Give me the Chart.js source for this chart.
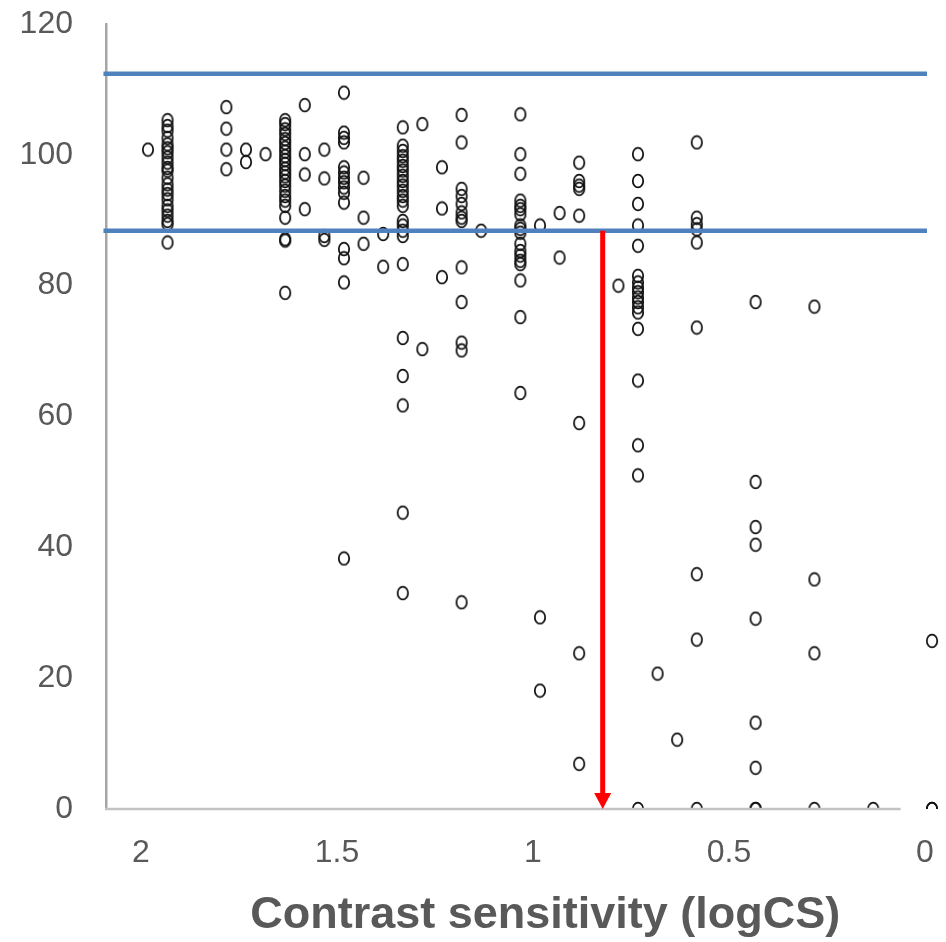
<!DOCTYPE html>
<html><head><meta charset="utf-8">
<script src="https://cdn.jsdelivr.net/npm/chart.js@4.4.1/dist/chart.umd.min.js"></script>
<style>html,body{margin:0;padding:0;background:#fff}canvas{display:block}</style>
</head><body>
<canvas id="c" width="946" height="942"></canvas>
<script>
// ---- data ----
const columnLogCS = [2.00, 1.95, 1.80, 1.75, 1.70, 1.65, 1.60, 1.55, 1.50, 1.45, 1.40, 1.35, 1.30, 1.25, 1.20, 1.15, 1.05, 1.00, 0.95, 0.90, 0.80, 0.75, 0.70, 0.65, 0.60, 0.45, 0.30, 0.15, 0.00];
const score200 = [100.8];
const score195 = [105.3, 104.4, 103.7, 102.6, 101.6, 101.0, 100.4, 99.6, 98.8, 98.0, 97.6, 96.5, 95.5, 94.7, 94.0, 93.2, 92.2, 91.5, 90.7, 89.9, 89.4, 86.6];
const score180 = [107.3, 104.0, 100.8, 97.8];
const score175 = [100.8, 98.9];
const score170 = [100.1];
const score165 = [105.3, 104.7, 103.9, 103.2, 102.4, 101.8, 101.1, 100.5, 99.8, 99.2, 98.6, 97.9, 97.3, 96.7, 96.0, 95.3, 94.5, 93.7, 93.0, 92.2, 90.4, 87.1, 86.9, 78.9];
const score160 = [107.6, 100.1, 97.0, 91.7];
const score155 = [100.8, 96.4, 87.6, 87.0];
const score150 = [109.5, 103.4, 102.6, 101.9, 98.1, 97.3, 96.5, 95.8, 95.0, 94.2, 92.7, 85.6, 84.2, 80.5, 38.3];
const score145 = [96.5, 90.4, 86.4];
const score140 = [87.9, 82.9];
const score135 = [104.2, 101.4, 100.6, 99.8, 99.1, 98.3, 97.6, 96.8, 96.0, 95.3, 94.5, 93.7, 93.0, 92.2, 89.9, 89.2, 88.4, 87.6, 83.3, 72.0, 66.2, 61.7, 45.3, 33.0];
const score130 = [104.7, 70.3];
const score125 = [98.1, 91.8, 81.3];
const score120 = [106.1, 101.9, 94.8, 93.7, 92.5, 91.2, 90.4, 89.9, 82.8, 77.5, 71.3, 70.1, 31.6];
const score115 = [88.4];
const score105 = [106.2, 100.1, 97.1, 93.0, 92.2, 91.7, 90.9, 89.2, 88.7, 88.1, 86.4, 85.3, 84.6, 83.8, 83.3, 80.8, 75.2, 63.6];
const score100 = [89.2, 29.3, 18.1];
const score095 = [91.1, 84.3];
const score090 = [98.8, 96.0, 95.3, 94.8, 90.7, 59.0, 23.8, 6.9];
const score080 = [80.0];
const score075 = [100.1, 96.0, 92.5, 89.2, 86.1, 81.5, 80.5, 79.7, 79.0, 78.2, 77.5, 76.7, 75.9, 73.4, 65.5, 55.6, 51.0, 0];
const score070 = [20.7];
const score065 = [10.6];
const score060 = [101.9, 90.4, 89.4, 88.6, 86.6, 73.6, 35.9, 25.9, 0];
const score045 = [77.5, 50.0, 43.1, 40.4, 29.1, 13.2, 6.3, 0, 0];
const score030 = [76.8, 35.1, 23.8, 0];
const score015 = [0];
const score000 = [25.7, 0, 0];
const columnScores = [score200, score195, score180, score175, score170, score165, score160, score155, score150, score145, score140, score135, score130, score125, score120, score115, score105, score100, score095, score090, score080, score075, score070, score065, score060, score045, score030, score015, score000];

const xTickValues = [2, 1.5, 1, 0.5, 0];
const yTickValues = [0, 20, 40, 60, 80, 100, 120];
const referenceLevels = [112.4, 88.4];
const referenceSpan = [2.1135, 0.0128];
const arrowLogCS = 0.84;
const arrowScores = [88.4, 0];
const xAxisTitle = 'Contrast sensitivity (logCS)';

// ---- styling ----
const FONT = '"Liberation Sans", Arial, sans-serif';
const TEXT_GREY = '#595959';

const scatterPoints = columnLogCS.flatMap((x, i) => columnScores[i].map(y => ({x, y})));

function makeOval() {
  const c = document.createElement('canvas');
  c.width = 14; c.height = 16;
  const g = c.getContext('2d');
  g.strokeStyle = '#111111';
  g.lineWidth = 1.75;
  g.beginPath();
  g.ellipse(7, 8, 5.2, 6.4, 0, 0, Math.PI * 2);
  g.stroke();
  return c;
}
const ovalMarker = makeOval();

const refDatasets = referenceLevels.map(level => ({
  type: 'line',
  data: referenceSpan.map(x => ({x, y: level})),
  borderColor: '#4f81bd',
  borderWidth: 4.5,
  pointRadius: 0,
  fill: false,
  tension: 0,
  clip: false,
  order: 0
}));

const decorPlugin = {
  id: 'decor',
  afterDatasetsDraw(chart) {
    const {ctx, chartArea, scales: {x, y}} = chart;
    ctx.save();
    ctx.strokeStyle = '#c3c3c3';
    ctx.lineWidth = 2.5;
    ctx.beginPath();
    ctx.moveTo(chartArea.left - 1, chartArea.bottom);
    ctx.lineTo(x.getPixelForValue(0.08), chartArea.bottom);
    ctx.stroke();
    const ax = x.getPixelForValue(arrowLogCS);
    const yTop = y.getPixelForValue(arrowScores[0]);
    const yTip = y.getPixelForValue(arrowScores[1]);
    const headH = 16, headW = 17;
    ctx.strokeStyle = '#ff0000';
    ctx.fillStyle = '#ff0000';
    ctx.lineWidth = 5;
    ctx.beginPath();
    ctx.moveTo(ax, yTop);
    ctx.lineTo(ax, yTip - headH + 1);
    ctx.stroke();
    ctx.beginPath();
    ctx.moveTo(ax - headW / 2, yTip - headH);
    ctx.lineTo(ax + headW / 2, yTip - headH);
    ctx.lineTo(ax, yTip);
    ctx.closePath();
    ctx.fill();
    ctx.restore();
  },
  afterDraw(chart) {
    const {ctx, chartArea} = chart;
    ctx.save();
    ctx.font = 'bold 45px ' + FONT;
    ctx.fillStyle = TEXT_GREY;
    ctx.textAlign = 'center';
    ctx.textBaseline = 'alphabetic';
    ctx.fillText(xAxisTitle, chartArea.left + 0.528 * (chartArea.right - chartArea.left), 928);
    ctx.restore();
  }
};

new Chart(document.getElementById('c'), {
  type: 'scatter',
  data: {
    datasets: [
      {
        data: scatterPoints,
        pointStyle: ovalMarker,
        pointRadius: 6,
        pointHoverRadius: 6,
        clip: {left: false, top: false, right: false, bottom: 0},
        order: 1
      },
      ...refDatasets
    ]
  },
  options: {
    responsive: false,
    devicePixelRatio: 1,
    animation: false,
    events: [],
    layout: {padding: {top: 24, right: 8, left: 0, bottom: 0}},
    plugins: {legend: {display: false}, tooltip: {enabled: false}, title: {display: false}},
    scales: {
      x: {
        type: 'linear',
        reverse: true,
        min: -0.0153,
        max: 2.107,
        afterBuildTicks: s => { s.ticks = xTickValues.map(v => ({value: v})); },
        afterFit: s => { s.height = 133; s.paddingLeft = 0; s.paddingRight = 0; },
        grid: {display: false, drawTicks: false},
        border: {display: false},
        ticks: {
          padding: 25,
          labelOffset: -7,
          color: TEXT_GREY,
          font: {family: FONT, size: 32},
          maxRotation: 0,
          autoSkip: false,
          callback: v => String(v)
        }
      },
      y: {
        type: 'linear',
        min: 0,
        max: 120,
        afterBuildTicks: s => { s.ticks = yTickValues.map(v => ({value: v})); },
        afterFit: s => { s.width = 106; s.paddingTop = 0; s.paddingBottom = 0; },
        grid: {display: false, drawTicks: false},
        border: {display: true, color: '#a6a6a6', width: 2.5},
        ticks: {
          padding: 33,
          color: TEXT_GREY,
          font: {family: FONT, size: 32},
          autoSkip: false,
          callback: v => String(v)
        }
      }
    }
  },
  plugins: [decorPlugin]
});
</script>
</body></html>
